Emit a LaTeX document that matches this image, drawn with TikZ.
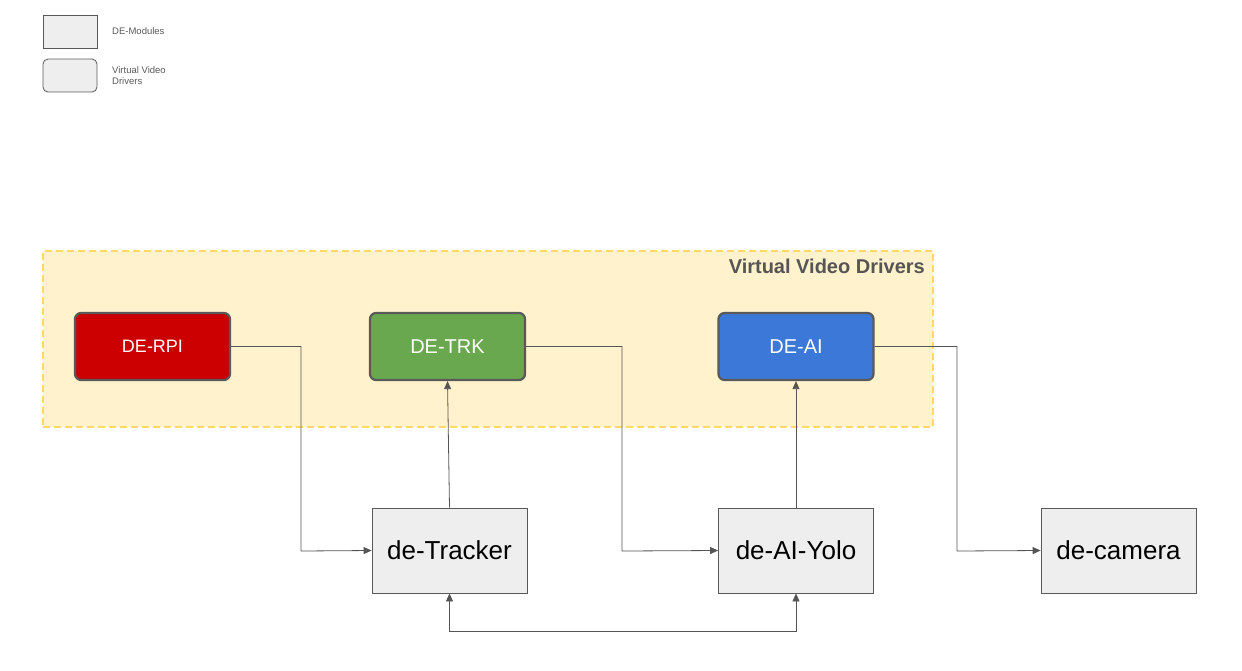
\documentclass[tikz,border=0pt]{standalone}
\usepackage{fontspec}
\setmainfont{Liberation Sans}
\usetikzlibrary{arrows.meta}
\definecolor{lg}{HTML}{EEEEEE}
\definecolor{bd}{HTML}{595959}
\definecolor{ln}{HTML}{555555}
\definecolor{yf}{HTML}{FFF2CC}
\definecolor{yb}{HTML}{FFD966}
\definecolor{rd}{HTML}{CC0000}
\definecolor{gr}{HTML}{6AA84F}
\definecolor{bl}{HTML}{3C78D8}
\begin{document}
\begin{tikzpicture}[x=1pt,y=-1pt,
  vd/.style={draw=bd,line width=2.2pt,rounded corners=6pt,minimum width=155pt,minimum height=67pt,text=white,font=\fontsize{20}{24}\selectfont,inner sep=0pt},
  mod/.style={draw=bd,fill=lg,line width=0.8pt,minimum width=155pt,minimum height=85pt,font=\fontsize{26}{30}\selectfont,inner sep=0pt},
  con/.style={draw=ln,line width=0.8pt,-{Triangle[length=8pt,width=7pt]}},
  leg/.style={font=\fontsize{9.5}{11}\selectfont,text=bd,align=left,anchor=west,inner sep=0pt}]
\useasboundingbox (0,0) rectangle (1242,670);
% legend
\node[draw=bd,fill=lg,line width=0.8pt,minimum width=54pt,minimum height=33pt,inner sep=0pt] (l1) at (70,31.5) {};
\node[leg] (l1t) at (112,31.5) {DE-Modules};
\node[draw=bd,fill=lg,line width=0.8pt,rounded corners=5pt,minimum width=54pt,minimum height=33pt,inner sep=0pt] (l2) at (70,75.5) {};
\node[leg] (l2t) at (112,75.5) {Virtual Video\\Drivers};
% region
\node[draw=yb,fill=yf,dashed,dash pattern=on 7pt off 4pt,line width=2.2pt,minimum width=890pt,minimum height=176pt,inner sep=0pt] (reg) at (488,339) {};
\node[anchor=east,font=\bfseries\fontsize{20}{24}\selectfont,text=ln,inner sep=0pt] (regt) at (925,266) {Virtual Video Drivers};
% drivers
\node[vd,fill=rd,font=\fontsize{18}{22}\selectfont] (rpi) at (152.5,346.5) {DE-RPI};
\node[vd,fill=gr] (trk) at (447.5,346.5) {DE-TRK};
\node[vd,fill=bl] (ai) at (796,346.5) {DE-AI};
% modules
\node[mod] (tr) at (449.5,550.5) {de-Tracker};
\node[mod] (yolo) at (796,550.5) {de-AI-Yolo};
\node[mod] (cam) at (1118.5,550.5) {de-camera};
% connectors
\draw[con] (rpi.east) -| (301,551) -- (tr.west);
\draw[con] (tr.north) -- (trk.south);
\draw[con] (trk.east) -| (622,551) -- (yolo.west);
\draw[con] (yolo.north) -- (ai.south);
\draw[con] (ai.east) -| (957,551) -- (cam.west);
\draw[con,{Triangle[length=8pt,width=7pt]}-{Triangle[length=8pt,width=7pt]}] (tr.south) -- (449.5,631) -| (yolo.south);
\end{tikzpicture}
\end{document}
